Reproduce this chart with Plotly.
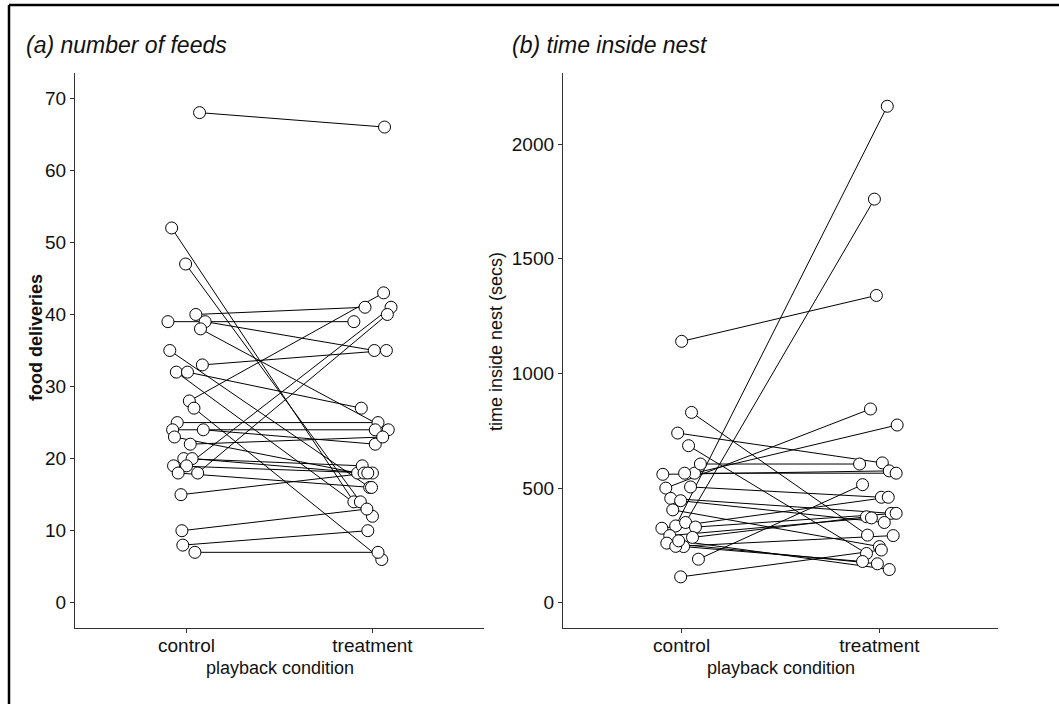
import plotly.graph_objects as go

# ---------------- data ----------------
categories = ["control", "treatment"]

# panel (a): number of feeds, paired by nest (control -> treatment)
feeds_control = [68, 52, 47, 40, 39, 39, 38, 35, 33, 32, 32, 28, 27, 25, 24, 24, 23, 22, 20, 20,
                 19, 19, 18, 18, 15, 10, 8, 7]
feeds_treatment = [66, 14, 14, 41, 39, 35, 24, 16, 35, 12, 27, 43, 6, 25, 24, 22, 18, 23, 19, 18,
                   18, 41, 16, 40, 18, 13, 10, 7]
feeds_control_jitter = [0.07, -0.08, -0.005, 0.05, -0.10, 0.10, 0.075, -0.09, 0.085, -0.055, 0.005,
                        0.015, 0.04, -0.05, -0.075, 0.09, -0.065, 0.02, -0.015, 0.03, -0.07, 0.0,
                        -0.045, 0.06, -0.03, -0.025, -0.02, 0.045]
feeds_treatment_jitter = [0.065, -0.10, -0.065, -0.04, -0.10, 0.01, 0.085, -0.015, 0.075, 0.0, -0.06,
                          0.06, 0.05, 0.03, 0.015, 0.015, -0.08, 0.055, -0.055, -0.045, 0.0, 0.10,
                          -0.005, 0.08, -0.025, -0.03, -0.025, 0.03]

# panel (b): time inside nest (secs)
time_control = [1140, 335, 350, 500, 565, 830, 740, 685, 605, 560, 565, 505, 455, 445, 405, 325,
                330, 285, 293, 260, 245, 246, 190, 113, 270]
time_treatment = [1340, 2165, 1760, 845, 775, 295, 610, 215, 605, 575, 565, 460, 390, 350, 245, 460,
                  390, 375, 370, 170, 180, 293, 515, 230, 145]
time_control_jitter = [0.0, -0.03, 0.02, -0.08, 0.065, 0.05, -0.02, 0.035, 0.095, -0.095, 0.015, 0.045,
                       -0.055, -0.005, -0.045, -0.10, 0.07, 0.055, -0.06, -0.075, 0.01, -0.03, 0.085,
                       -0.005, -0.015]
time_treatment_jitter = [-0.015, 0.04, -0.025, -0.045, 0.09, -0.06, 0.015, -0.065, -0.10, 0.05, 0.085,
                         0.01, 0.06, 0.025, 0.0, 0.045, 0.085, -0.065, -0.04, -0.01, -0.085, 0.07,
                         -0.085, 0.01, 0.05]

feeds_ticks = [0, 10, 20, 30, 40, 50, 60, 70]
time_ticks = [0, 500, 1000, 1500, 2000]

# ---------------- figure ----------------
W, H = 1059, 704
ML, MR, MT, MB = 75, 61, 73, 76
PW, PH = W - ML - MR, H - MT - MB


def px(x):
    return (x - ML) / PW


def py(y):
    return (H - MB - y) / PH


FONT = "Liberation Sans, Arial, sans-serif"
TICK_FONT = dict(family=FONT, size=19, color="#111111")
fig = go.Figure()


def add_panel(ctrl, trt, cj, tj, xa, ya):
    lx, ly = [], []
    for c, t, a, b in zip(ctrl, trt, cj, tj):
        lx += [1 + a, 2 + b, None]
        ly += [c, t, None]
    fig.add_trace(go.Scatter(x=lx, y=ly, mode="lines", xaxis=xa, yaxis=ya,
                             line=dict(color="black", width=1), hoverinfo="skip", showlegend=False))
    mx = [1 + a for a in cj] + [2 + b for b in tj]
    my = list(ctrl) + list(trt)
    fig.add_trace(go.Scatter(x=mx, y=my, mode="markers", xaxis=xa, yaxis=ya, showlegend=False,
                             marker=dict(size=12, color="white", line=dict(color="black", width=1))))


add_panel(feeds_control, feeds_treatment, feeds_control_jitter, feeds_treatment_jitter, "x", "y")
add_panel(time_control, time_treatment, time_control_jitter, time_treatment_jitter, "x2", "y2")

axis_common = dict(showgrid=False, zeroline=False, showline=True, linecolor="#333333", linewidth=1.3,
                   ticks="outside", ticklen=4, tickcolor="#333333", tickwidth=1, tickfont=TICK_FONT)

fig.update_layout(
    width=W, height=H, margin=dict(l=ML, r=MR, t=MT, b=MB),
    paper_bgcolor="white", plot_bgcolor="white",
    xaxis=dict(domain=[0, px(484)], range=[0.4, 2.6], tickvals=[1, 2], ticktext=categories,
               ticklabelstandoff=-4, **axis_common),
    yaxis=dict(range=[-3.5, 73.5], tickvals=feeds_ticks, **axis_common),
    xaxis2=dict(domain=[px(563), 1], range=[0.4, 2.6], tickvals=[1, 2], ticktext=categories,
                anchor="y2", ticklabelstandoff=-4, **axis_common),
    yaxis2=dict(range=[-110, 2310], tickvals=time_ticks, anchor="x2", **axis_common),
)

title_font = dict(family=FONT, size=23, color="#111111")
label_font = dict(family=FONT, size=18, color="#111111")
ann = [
    dict(text="<i>(a) number of feeds</i>", x=px(24), y=py(45), xanchor="left", yanchor="middle", font=title_font),
    dict(text="<i>(b) time inside nest</i>", x=px(510), y=py(45), xanchor="left", yanchor="middle", font=title_font),
    dict(text="<b>food deliveries</b>", x=px(36), y=py(338), xanchor="center", yanchor="middle", textangle=-90,
         font=dict(family=FONT, size=18, color="#111111")),
    dict(text="time inside nest (secs)", x=px(496), y=py(342), xanchor="center", yanchor="middle", textangle=-90,
         font=dict(family=FONT, size=18, color="#111111")),
    dict(text="playback condition", x=px(279.5), y=py(668), xanchor="center", yanchor="middle", font=label_font),
    dict(text="playback condition", x=px(780.5), y=py(668), xanchor="center", yanchor="middle", font=label_font),
]
for a in ann:
    a.update(xref="paper", yref="paper", showarrow=False)
fig.update_layout(annotations=ann)

# outer frame (top and left edges)
fig.add_shape(type="line", xref="paper", yref="paper", x0=px(9), x1=px(1059), y0=py(5), y1=py(5),
              line=dict(color="black", width=2.5))
fig.add_shape(type="line", xref="paper", yref="paper", x0=px(9), x1=px(9), y0=py(5), y1=py(704),
              line=dict(color="black", width=2.5))

fig.write_html("out.html", config={"displayModeBar": False},
               post_script="document.body.style.margin='0';document.body.style.overflow='hidden';")
